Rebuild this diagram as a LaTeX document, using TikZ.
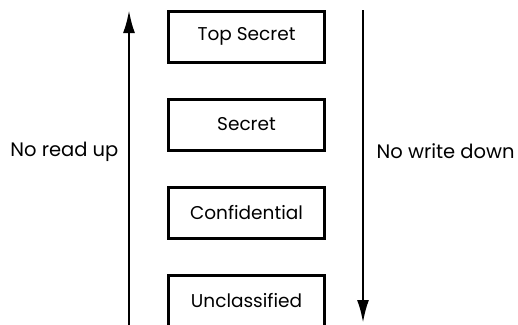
\documentclass[tikz,border=0pt]{standalone}
\usepackage{fontspec}
\setmainfont{Poppins}
\usepackage{tikz}
\usetikzlibrary{arrows.meta,
                positioning}
\tikzset{block/.style=
   {rectangle,
    draw,
    line width=3pt,
    text centered,
    font=\fontsize{18.5pt}{22pt}\selectfont,
    minimum width=156pt,
    minimum height=51pt}}
\tikzset{arrow/.style = {draw, line width=2.6pt, -{Latex[length=23pt,width=12pt]}}}
\tikzset{every node/.style = {font=\fontsize{19.5pt}{23pt}\selectfont}}

\begin{document}
\begin{tikzpicture}[x=1pt, y=-1pt]

    \useasboundingbox (0,0) rectangle (518,324);

    % Place nodes
    \node [block] (topsecret) at (246.5,36.5) {Top Secret};
    \node [block, below of=topsecret, node distance=88pt] (secret) {Secret};
    \node [block, below of=secret, node distance=88pt] (confidential) {Confidential};
    \node [block, below of=confidential, node distance=88pt] (unclassified) {Unclassified};

    \coordinate (readlow) at (129,326);
    \coordinate (readhigh) at (129,10);
    \coordinate (writehigh) at (363,10);
    \coordinate (writelow) at (363,323);

    % Draw edges
    \path [arrow]
    (readlow)
    -- node [pos=0.55, left=6pt] {No read up}
    (readhigh);

    \path [arrow]
    (writehigh)
    -- node [pos=0.45, right=9pt] {No write down}
    (writelow);

\end{tikzpicture}
\end{document}
